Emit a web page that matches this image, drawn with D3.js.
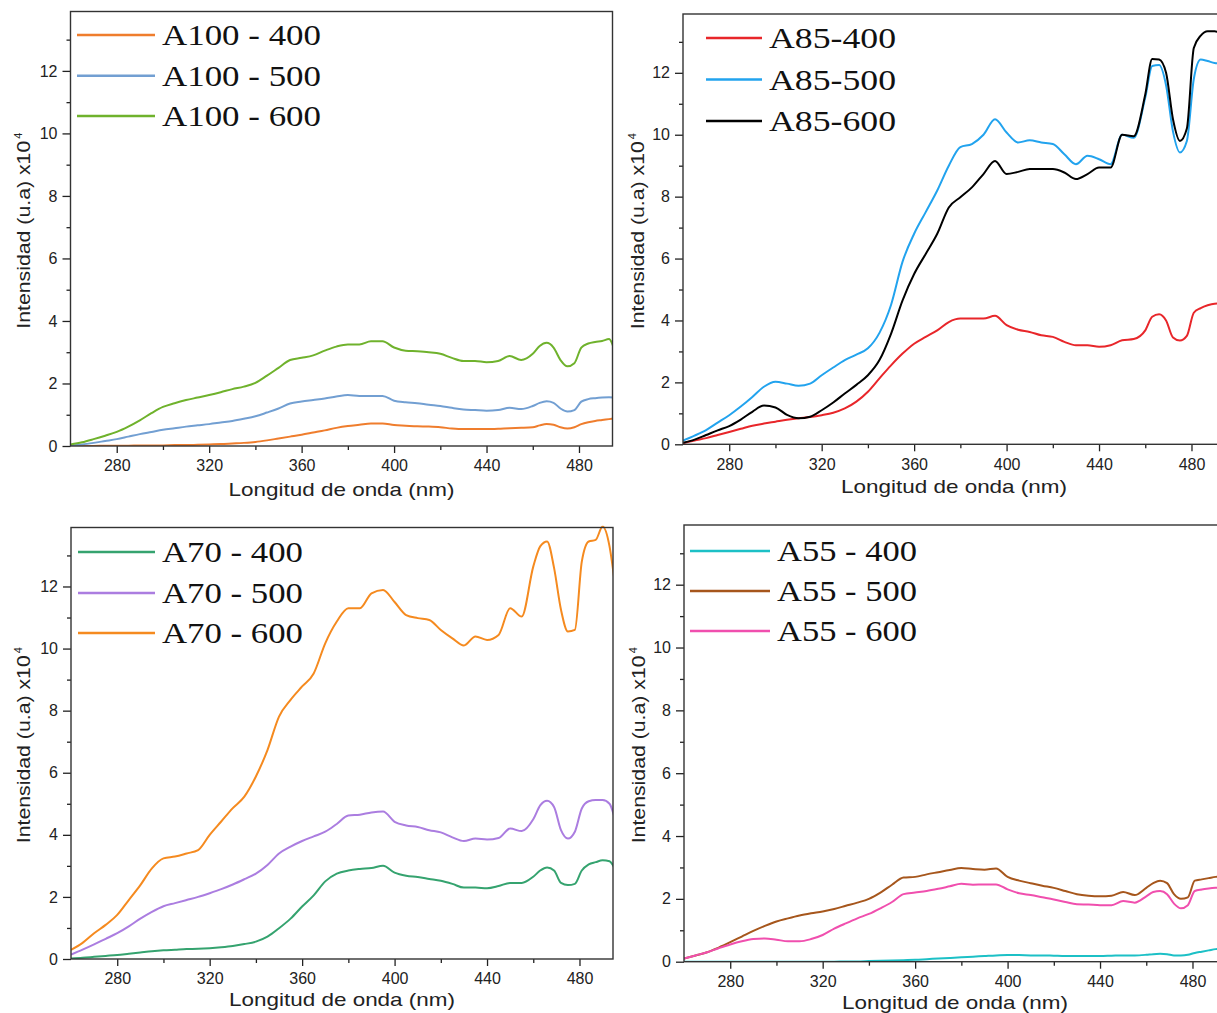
<!DOCTYPE html>
<html>
<head>
<meta charset="utf-8">
<script src="https://cdn.jsdelivr.net/npm/d3@7"></script>
<style>
body{margin:0;background:#fff;}
svg{display:block;}
</style>
</head>
<body>
<svg id="chart" width="1217" height="1013"></svg>
<script>
//data
var wavelengths=[260,265,270,275,280,285,290,295,300,305,
    310,315,320,325,330,335,340,345,350,355,
    360,365,370,375,380,385,390,395,400,405,
    410,415,420,425,430,435,440,445,450,455,
    460,463,466,469,472,475,478,481,484,487,
    490,493,495];
var xTicks=[280,320,360,400,440,480];
var xMinor=[300,340,380,420,460];
var yTicks=[0,2,4,6,8,10,12];
var yMinor=[1,3,5,7,9,11,13];
var xTitle="Longitud de onda (nm)";
var yTitle="Intensidad (u.a) x10";

var a100_400=[0,0,0,0.01,0.01,0.01,0.02,0.02,0.02,0.03,
    0.03,0.04,0.05,0.06,0.08,0.1,0.13,0.18,0.24,0.3,
    0.36,0.43,0.5,0.58,0.64,0.68,0.72,0.72,0.67,0.65,
    0.63,0.62,0.6,0.56,0.54,0.54,0.54,0.55,0.57,0.58,
    0.6,0.66,0.7,0.68,0.6,0.56,0.6,0.7,0.76,0.8,
    0.83,0.86,0.88];
var a100_500=[0.02,0.05,0.1,0.16,0.22,0.3,0.38,0.45,0.52,0.57,
    0.62,0.66,0.7,0.75,0.8,0.87,0.95,1.07,1.2,1.36,
    1.42,1.47,1.52,1.58,1.63,1.6,1.6,1.6,1.45,1.4,
    1.37,1.32,1.28,1.22,1.17,1.15,1.13,1.15,1.22,1.18,
    1.28,1.38,1.43,1.38,1.2,1.1,1.15,1.42,1.5,1.53,
    1.55,1.56,1.55];
var a100_600=[0.05,0.12,0.22,0.33,0.45,0.62,0.82,1.05,1.25,1.37,
    1.47,1.55,1.63,1.72,1.82,1.9,2.02,2.25,2.5,2.75,
    2.82,2.9,3.05,3.18,3.25,3.25,3.35,3.35,3.15,3.05,
    3.03,3.0,2.95,2.82,2.72,2.72,2.68,2.72,2.88,2.75,
    2.95,3.2,3.3,3.15,2.75,2.55,2.65,3.15,3.28,3.33,
    3.36,3.42,3.15];

var a85_400=[0.03,0.12,0.2,0.3,0.4,0.5,0.6,0.67,0.73,0.79,
    0.84,0.88,0.94,1.02,1.16,1.38,1.7,2.13,2.55,2.93,
    3.25,3.47,3.68,3.95,4.06,4.06,4.06,4.15,3.85,3.7,
    3.63,3.52,3.47,3.31,3.2,3.2,3.15,3.2,3.36,3.4,
    3.68,4.12,4.2,4.0,3.45,3.35,3.5,4.25,4.4,4.49,
    4.54,4.55,4.55];
var a85_500=[0.12,0.28,0.46,0.7,0.94,1.22,1.53,1.86,2.02,1.96,
    1.89,1.96,2.23,2.48,2.72,2.9,3.1,3.6,4.5,5.9,
    6.8,7.5,8.2,9.0,9.6,9.7,10.0,10.5,10.07,9.75,
    9.82,9.75,9.7,9.37,9.05,9.32,9.21,9.05,10.0,9.9,
    11.2,12.22,12.25,11.6,10.1,9.43,9.8,11.8,12.43,12.38,
    12.32,12.3,12.3];
var a85_600=[0.05,0.15,0.3,0.45,0.59,0.8,1.05,1.25,1.19,0.95,
    0.84,0.89,1.1,1.35,1.64,1.92,2.23,2.72,3.57,4.65,
    5.5,6.15,6.8,7.65,7.98,8.3,8.73,9.15,8.73,8.8,
    8.89,8.89,8.89,8.78,8.57,8.73,8.94,8.94,10.0,9.95,
    11.3,12.45,12.43,12.0,10.5,9.8,10.2,12.8,13.2,13.34,
    13.34,13.3,13.3];

var a70_400=[0.02,0.04,0.07,0.1,0.13,0.17,0.21,0.25,0.28,0.3,
    0.32,0.33,0.35,0.38,0.42,0.48,0.56,0.72,0.99,1.3,
    1.69,2.05,2.5,2.75,2.85,2.9,2.93,3.0,2.78,2.68,
    2.64,2.58,2.52,2.42,2.3,2.3,2.28,2.35,2.45,2.45,
    2.65,2.85,2.95,2.85,2.45,2.38,2.42,2.85,3.05,3.12,
    3.18,3.15,2.95];
var a70_500=[0.14,0.3,0.47,0.65,0.83,1.05,1.3,1.52,1.7,1.8,
    1.9,2.0,2.12,2.25,2.4,2.57,2.75,3.03,3.4,3.62,
    3.8,3.95,4.1,4.35,4.62,4.65,4.72,4.75,4.42,4.3,
    4.25,4.15,4.08,3.92,3.8,3.88,3.85,3.9,4.2,4.12,
    4.5,4.95,5.1,4.9,4.15,3.88,4.1,4.85,5.08,5.12,
    5.12,5.0,4.6];
var a70_600=[0.29,0.52,0.83,1.1,1.42,1.9,2.38,2.92,3.24,3.3,
    3.4,3.51,4.0,4.43,4.86,5.23,5.88,6.73,7.81,8.35,
    8.78,9.2,10.17,10.87,11.3,11.3,11.78,11.89,11.5,11.08,
    10.98,10.92,10.6,10.33,10.1,10.39,10.28,10.44,11.3,11.03,
    12.64,13.29,13.45,12.6,11.25,10.55,10.6,12.8,13.45,13.5,
    13.93,13.29,12.27];

var a55_400=[0,0,0,0,0,0,0,0,0,0,
    0,0,0,0,0.01,0.01,0.02,0.03,0.04,0.05,
    0.06,0.08,0.1,0.12,0.14,0.16,0.18,0.2,0.21,0.21,
    0.2,0.2,0.19,0.18,0.18,0.18,0.18,0.19,0.2,0.2,
    0.22,0.24,0.25,0.24,0.2,0.2,0.22,0.28,0.32,0.36,
    0.4,0.42,0.43];
var a55_500=[0.1,0.2,0.3,0.45,0.62,0.8,0.98,1.14,1.28,1.38,
    1.47,1.54,1.6,1.68,1.78,1.88,2.0,2.2,2.45,2.68,
    2.7,2.78,2.85,2.92,2.98,2.95,2.93,2.97,2.7,2.58,
    2.5,2.42,2.35,2.25,2.15,2.1,2.08,2.1,2.22,2.12,
    2.35,2.5,2.58,2.5,2.15,2.0,2.05,2.58,2.62,2.66,
    2.7,2.72,2.72];
var a55_600=[0.1,0.2,0.3,0.43,0.55,0.65,0.72,0.74,0.7,0.65,
    0.65,0.72,0.85,1.05,1.22,1.38,1.52,1.7,1.9,2.15,
    2.2,2.25,2.32,2.4,2.48,2.45,2.46,2.46,2.3,2.18,
    2.12,2.05,1.98,1.9,1.83,1.82,1.8,1.8,1.93,1.88,
    2.08,2.22,2.25,2.15,1.85,1.7,1.8,2.25,2.3,2.33,
    2.35,2.36,2.36];

var names100=["A100 - 400","A100 - 500","A100 - 600"];
var names85=["A85-400","A85-500","A85-600"];
var names70=["A70 - 400","A70 - 500","A70 - 600"];
var names55=["A55 - 400","A55 - 500","A55 - 600"];
var colors100=["#ef7d2d","#729fd2","#6fb22c"];
var colors85=["#e8262a","#22a3ee","#000000"];
var colors70=["#35a36f","#ab7de0","#f58a1f"];
var colors55=["#1cc0c6","#a6561c","#f04fae"];

//layout
var xDomain=[260,494.5];
var yDomain=[0,13.9];
var panels=[
    {x:70.5,y:11.5,w:542,h:434.5,series:[a100_400,a100_500,a100_600],names:names100,colors:colors100,
     legX:77,legW:78,textLen:159,rows:[35,75.7,116],yLabX:30,xLabY:496},
    {x:683,y:14,w:542,h:430.3,series:[a85_400,a85_500,a85_600],names:names85,colors:colors85,
     legX:706,legW:56,textLen:127,rows:[38,79.5,121],yLabX:644,xLabY:493},
    {x:71,y:527.5,w:542,h:431.5,series:[a70_400,a70_500,a70_600],names:names70,colors:colors70,
     legX:78,legW:77,textLen:141,rows:[552,593,633],yLabX:30,xLabY:1006},
    {x:684,y:525,w:542,h:436.7,series:[a55_400,a55_500,a55_600],names:names55,colors:colors55,
     legX:690,legW:80,textLen:140,rows:[551,591,631],yLabX:645,xLabY:1009}
];

var svg=d3.select("#chart");
var sans="'Liberation Sans', Arial, sans-serif";
var serif="'Liberation Serif', 'Times New Roman', serif";

function drawPanel(p,i){
    var g=svg.append("g");
    var x=d3.scaleLinear().domain(xDomain).range([p.x,p.x+p.w]);
    var y=d3.scaleLinear().domain(yDomain).range([p.y+p.h,p.y]);

    svg.append("clipPath").attr("id","clip"+i).append("rect")
        .attr("x",p.x).attr("y",p.y-2).attr("width",p.w).attr("height",p.h+2);

    //axes
    var bottom=p.y+p.h;
    g.append("g").attr("transform","translate(0,"+bottom+")")
        .call(d3.axisBottom(x).tickValues(xTicks).tickSize(7).tickSizeOuter(0).tickPadding(7).tickFormat(d3.format("d")));
    g.append("g").attr("transform","translate(0,"+bottom+")")
        .call(d3.axisBottom(x).tickValues(xMinor).tickSize(4).tickSizeOuter(0).tickFormat(""));
    g.append("g").attr("transform","translate("+p.x+",0)")
        .call(d3.axisLeft(y).tickValues(yTicks).tickSize(8).tickSizeOuter(0).tickPadding(5).tickFormat(d3.format("d")));
    g.append("g").attr("transform","translate("+p.x+",0)")
        .call(d3.axisLeft(y).tickValues(yMinor).tickSize(4).tickSizeOuter(0).tickFormat(""));
    g.selectAll(".domain").remove();
    g.selectAll(".tick line").attr("stroke","#222").attr("stroke-width",1.3);
    g.selectAll(".tick text").attr("fill","#222").style("font-family",sans).style("font-size","16px");

    //curves
    var line=d3.line().x(function(d,j){return x(wavelengths[j]);}).y(function(d){return y(d);})
        .curve(d3.curveMonotoneX);
    p.series.forEach(function(s,k){
        g.append("path").attr("d",line(s)).attr("fill","none")
            .attr("stroke",p.colors[k]).attr("stroke-width",2)
            .attr("clip-path","url(#clip"+i+")");
    });

    //frame
    g.append("rect").attr("x",p.x).attr("y",p.y).attr("width",p.w).attr("height",p.h)
        .attr("fill","none").attr("stroke","#333").attr("stroke-width",1.4);

    //titles
    g.append("text").attr("x",p.x+p.w/2).attr("y",p.xLabY).attr("text-anchor","middle")
        .attr("textLength",226).attr("lengthAdjust","spacingAndGlyphs")
        .style("font-family",sans).style("font-size","19px").attr("fill","#222").text(xTitle);
    var yl=g.append("g").attr("transform","translate("+p.yLabX+","+(p.y+p.h/2)+") rotate(-90)");
    yl.append("text").attr("x",-100).attr("y",0).attr("textLength",188).attr("lengthAdjust","spacingAndGlyphs")
        .style("font-family",sans).style("font-size","18px").attr("fill","#222").text(yTitle);
    yl.append("text").attr("x",90).attr("y",-8)
        .style("font-family",sans).style("font-size","11px").attr("fill","#222").text("4");

    //legend
    p.names.forEach(function(n,k){
        var ry=p.rows[k];
        g.append("line").attr("x1",p.legX).attr("x2",p.legX+p.legW).attr("y1",ry).attr("y2",ry)
            .attr("stroke",p.colors[k]).attr("stroke-width",2.5);
        g.append("text").attr("x",p.legX+p.legW+7).attr("y",ry+10)
            .attr("textLength",p.textLen).attr("lengthAdjust","spacingAndGlyphs")
            .style("font-family",serif).style("font-size","30px").attr("fill","#111").text(n);
    });
}

panels.forEach(drawPanel);
</script>
</body>
</html>
